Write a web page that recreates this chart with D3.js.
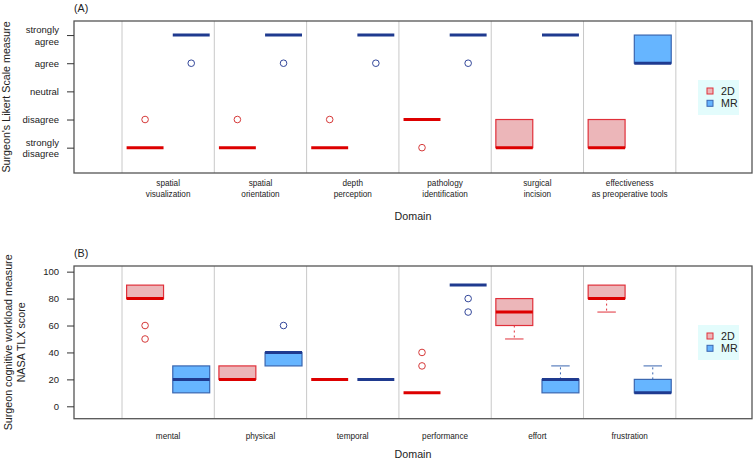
<!DOCTYPE html>
<html>
<head>
<meta charset="utf-8">
<script src="https://cdn.jsdelivr.net/npm/d3@7"></script>
<style>
  body { margin: 0; background: #fff; }
  svg { display: block; font-family: "Liberation Sans", Arial, sans-serif; }
</style>
</head>
<body>
<svg id="chart" width="753" height="461"></svg>
<script>
// Panel A: Likert scale (1 = strongly disagree ... 5 = strongly agree)
const likertDomains = ["spatial|visualization", "spatial|orientation", "depth|perception",
  "pathology|identification", "surgical|incision", "effectiveness|as preoperative tools"];
const likertTicks = [1, 2, 3, 4, 5];
const likertTickLabels = ["strongly|disagree", "disagree", "neutral", "agree", "strongly|agree"];
// five-number summaries [lower whisker, q1, median, q3, upper whisker]
const likert2D = [[1,1,1,1,1], [1,1,1,1,1], [1,1,1,1,1], [2,2,2,2,2], [1,1,1,2,2], [1,1,1,2,2]];
const likert2DOut = [[2], [2], [2], [1], [], []];
const likertMR = [[5,5,5,5,5], [5,5,5,5,5], [5,5,5,5,5], [5,5,5,5,5], [5,5,5,5,5], [4,4,4,5,5]];
const likertMROut = [[4], [4], [4], [4], [], []];

// Panel B: NASA TLX
const tlxDomains = ["mental", "physical", "temporal", "performance", "effort", "frustration"];
const tlxTicks = [0, 20, 40, 60, 80, 100];
const tlx2D = [[80,80,80,90,90], [20,20,20,30,30], [20,20,20,20,20], [10,10,10,10,10], [50,60,70,80,80], [70,80,80,90,90]];
const tlx2DOut = [[60, 50], [], [], [40, 30], [], []];
const tlxMR = [[10,10,20,30,30], [30,30,40,40,40], [20,20,20,20,20], [90,90,90,90,90], [10,10,20,20,30], [10,10,10,20,30]];
const tlxMROut = [[], [60], [], [80, 70], [], []];

const groups = ["2D", "MR"];

const svg = d3.select("#chart");
const left = 74, right = 752;

const colors = {
  "2D": { fill: "#ecb6b9", stroke: "#e0303a", median: "#dd0000", out: "#d63a3a" },
  "MR": { fill: "#66b5ff", stroke: "#3a66b0", median: "#1f3a8f", out: "#33479a" }
};

function drawPanel(opt) {
  const g = svg.append("g");
  const x = d3.scaleLinear().domain([-0.54, 14.15]).range([left, right]);
  const y = d3.scaleLinear().domain(opt.yDomain).range([opt.bottom, opt.top]);
  const boxW = x(0.8) - x(0);

  // dividers between domains
  const divs = d3.range(0, opt.domains.length + 1).map(i => 0.5 + 2 * i);
  g.selectAll(".div").data(divs).enter().append("line")
    .attr("x1", d => x(d)).attr("x2", d => x(d))
    .attr("y1", opt.top).attr("y2", opt.bottom)
    .attr("stroke", "#c8c8c8").attr("stroke-width", 1);

  // boxes
  opt.domains.forEach((dom, i) => {
    [[opt.s2D, opt.o2D], [opt.sMR, opt.oMR]].forEach((pair, k) => {
      const s = pair[0][i], outs = pair[1][i];
      const c = colors[groups[k]];
      const cx = x(1 + 2 * i + k);
      // whiskers
      const wh = [[s[1], s[0]], [s[3], s[4]]];
      wh.forEach(w => {
        if (w[0] === w[1]) return;
        g.append("line").attr("x1", cx).attr("x2", cx)
          .attr("y1", y(w[0])).attr("y2", y(w[1]))
          .attr("stroke", c.stroke).attr("stroke-dasharray", "2,3");
        g.append("line").attr("x1", cx - boxW / 4).attr("x2", cx + boxW / 4)
          .attr("y1", y(w[1])).attr("y2", y(w[1]))
          .attr("stroke", c.stroke).attr("stroke-width", 1);
      });
      if (s[3] > s[1]) {
        g.append("rect").attr("x", cx - boxW / 2).attr("width", boxW)
          .attr("y", y(s[3])).attr("height", y(s[1]) - y(s[3]))
          .attr("fill", c.fill).attr("stroke", c.stroke).attr("stroke-width", 1.2);
      }
      g.append("line").attr("x1", cx - boxW / 2).attr("x2", cx + boxW / 2)
        .attr("y1", y(s[2])).attr("y2", y(s[2]))
        .attr("stroke", c.median).attr("stroke-width", 3);
      g.selectAll(null).data(outs).enter().append("circle")
        .attr("cx", cx).attr("cy", d => y(d)).attr("r", 3.3)
        .attr("fill", "none").attr("stroke", c.out).attr("stroke-width", 1);
    });
  });

  // frame
  g.append("rect").attr("x", left).attr("y", opt.top)
    .attr("width", right - left).attr("height", opt.bottom - opt.top)
    .attr("fill", "none").attr("stroke", "#555").attr("stroke-width", 1.3);

  // y axis ticks
  const yAxis = d3.axisLeft(y).tickValues(opt.ticks).tickSize(7).tickPadding(6)
    .tickFormat(() => "");
  const ax = g.append("g").attr("transform", `translate(${left},0)`).call(yAxis);
  ax.select(".domain").remove();
  ax.selectAll(".tick line").attr("stroke", "#333");
  ax.selectAll(".tick").each(function (d, i) {
    const lines = opt.tickLabels[i].split("|");
    const t = d3.select(this).append("text")
      .attr("x", -14).attr("fill", "#222").attr("text-anchor", "end")
      .attr("font-size", 9.5);
    lines.forEach((ln, j) => {
      t.append("tspan").attr("x", -15)
        .attr("y", (j - (lines.length - 1) / 2) * 11.5)
        .attr("dy", "0.35em").text(ln);
    });
  });

  // category labels
  opt.domains.forEach((dom, i) => {
    const lines = dom.split("|");
    const t = g.append("text").attr("text-anchor", "middle").attr("font-size", 8.2)
      .attr("fill", "#222");
    lines.forEach((ln, j) => {
      t.append("tspan").attr("x", x(1.5 + 2 * i)).attr("y", opt.catY + j * 11).text(ln);
    });
  });

  g.append("text").attr("x", (left + right) / 2).attr("y", opt.domainY)
    .attr("text-anchor", "middle").attr("font-size", 10.7).attr("fill", "#222").text("Domain");

  g.append("text").attr("x", left).attr("y", opt.top - 9)
    .attr("font-size", 10.7).attr("fill", "#222").text(opt.tag);

  // y title
  const midY = (opt.top + opt.bottom) / 2;
  opt.yTitle.forEach((ln, j) => {
    g.append("text").attr("transform", `translate(${opt.yTitleX[j]},${midY}) rotate(-90)`)
      .attr("text-anchor", "middle").attr("font-size", 10.7).attr("fill", "#222").text(ln);
  });

  // legend
  const lg = g.append("g").attr("transform", `translate(698,${opt.legendY})`);
  lg.append("rect").attr("width", 41).attr("height", 35).attr("fill", "#e3fcfc");
  groups.forEach((name, k) => {
    const c = colors[name];
    lg.append("rect").attr("x", 9).attr("y", 8 + k * 12.3).attr("width", 6).attr("height", 6)
      .attr("fill", c.fill).attr("stroke", c.stroke).attr("stroke-width", 1);
    lg.append("text").attr("x", 23).attr("y", 11 + k * 12.3).attr("dy", "0.35em")
      .attr("font-size", 10.7).attr("fill", "#222").text(name);
  });
}

drawPanel({
  top: 21, bottom: 173, yDomain: [0.1, 5.5],
  domains: likertDomains, ticks: likertTicks, tickLabels: likertTickLabels,
  s2D: likert2D, o2D: likert2DOut, sMR: likertMR, oMR: likertMROut,
  catY: 186, domainY: 220, tag: "(A)",
  yTitle: ["Surgeon's Likert Scale measure"], yTitleX: [10],
  legendY: 80
});

drawPanel({
  top: 266, bottom: 418.7, yDomain: [-9.2, 104.2],
  domains: tlxDomains, ticks: tlxTicks, tickLabels: tlxTicks.map(String),
  s2D: tlx2D, o2D: tlx2DOut, sMR: tlxMR, oMR: tlxMROut,
  catY: 439, domainY: 458, tag: "(B)",
  yTitle: ["Surgeon cognitive workload measure", "NASA TLX score"], yTitleX: [12, 25],
  legendY: 325
});
</script>
</body>
</html>
